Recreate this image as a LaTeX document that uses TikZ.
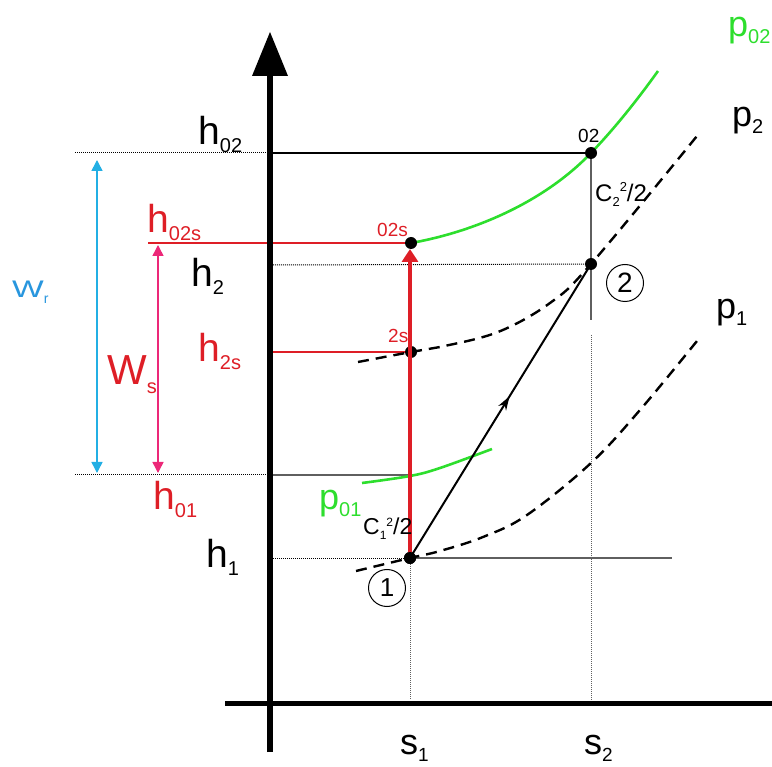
\documentclass[tikz,border=0pt]{standalone}
\usepackage{fontspec}
\setmainfont{Liberation Sans}
\usetikzlibrary{arrows.meta,decorations.markings}
\definecolor{myred}{RGB}{222,30,38}
\definecolor{mymag}{RGB}{236,40,120}
\definecolor{mycyan}{RGB}{35,175,228}
\definecolor{myblue}{RGB}{40,150,222}
\definecolor{mygreen}{RGB}{45,222,45}
\definecolor{mygray}{RGB}{95,95,95}
\newcommand{\fs}[1]{\fontsize{#1}{#1}\selectfont}
\newcommand{\hsub}[2]{\fs{39}#1\raisebox{-8pt}{\fs{20}#2}}
\begin{document}
\begin{tikzpicture}[x=1pt,y=-1pt,
  lbl/.style={inner sep=0pt,anchor=base west},
  dotline/.style={densely dotted,line width=1pt},
  thinline/.style={line width=1.2pt},
  pdash/.style={line width=2.4pt,dash pattern=on 11pt off 7pt},
  gcurve/.style={line width=2.6pt,mygreen},
  pt/.style={circle,fill=black,inner sep=0pt,minimum size=12pt},
  circ/.style={circle,draw,line width=1pt,inner sep=0pt,minimum size=37pt}]
\useasboundingbox (0,0) rectangle (772,767);
% point positions
\coordinate (q1) at (410,558);
\coordinate (q2) at (591,264);
\coordinate (q02) at (591,153);
\coordinate (q02s) at (411,243);
\coordinate (q2s) at (411,352);
% helper coordinates
\coordinate (y02L) at (75,153);
\coordinate (axA) at (270,153);
\coordinate (y02sL) at (148,243);
\coordinate (y2L) at (273,265);
\coordinate (y2sL) at (273,352);
\coordinate (y01L) at (75,475);
\coordinate (y01A) at (270,475);
\coordinate (y01R) at (410,475);
\coordinate (y1L) at (273,558);
\coordinate (y1R) at (672,558);
\coordinate (v2a) at (591,320);
\coordinate (v2b) at (591,335);
\coordinate (s1b) at (410,700);
\coordinate (s2b) at (591,700);
\coordinate (yAxB) at (270,752);
\coordinate (yAxT) at (270,70);
\coordinate (xAxL) at (225,703);
\coordinate (xAxR) at (772,703);
\coordinate (wrT) at (97,160);
\coordinate (wrB) at (97,473);
\coordinate (wsT) at (158,245);
\coordinate (wsB) at (158,473);
\coordinate (g02end) at (658,71);
\coordinate (redtip) at (410,249);
% horizontal level lines
\draw[dotline] (y02L) -- (axA);
\draw[thinline] (axA) -- (q02);
\draw[myred,thinline] (y02sL) -- (q02s);
\draw[dotline] (y2L) -- (q2);
\draw[myred,thinline] (y2sL) -- (q2s);
\draw[dotline] (y01L) -- (y01A);
\draw[mygray,thinline] (y01A) -- (y01R);
\draw[dotline] (y1L) -- (q1);
\draw[mygray,thinline] (q1) -- (y1R);
% vertical lines
\draw[mygray,thinline] (q02) -- (v2a);
\draw[dotline,mygray] (v2b) -- (s2b);
\draw[dotline,mygray] (q1) -- (s1b);
% axes
\draw[line width=6pt] (yAxB) -- (yAxT);
\fill (270,32) -- (252,76) -- (288,76) -- cycle;
\draw[line width=5pt] (xAxL) -- (xAxR);
% dashed isobars
\draw[pdash] plot[smooth,tension=0.6] coordinates {(358,362) (411,352) (440,347) (498,332) (550,303) (591,264) (697,136)};
\draw[pdash] plot[smooth,tension=0.6] coordinates {(356,571) (410,558) (440,551) (483,537) (527,515) (591,463) (640,410) (697,341)};
% green isobars
\draw[gcurve] (q02s) .. controls (473,232) and (543,203) .. (q02) .. controls (615,128) and (638,99) .. (g02end);
\draw[gcurve] plot[smooth,tension=0.6] coordinates {(362,483) (410,476) (440,468) (492,449)};
% points
\node[pt] (p1) at (q1) {};
\node[pt] (p2) at (q2) {};
\node[pt] (p02) at (q02) {};
\node[pt] (p02s) at (q02s) {};
\node[pt] (p2s) at (q2s) {};
% process arrows
\draw[myred,line width=3.8pt,-{Triangle[length=13pt,width=16pt]}] (p1.center) -- (redtip);
\draw[line width=2pt,decoration={markings,mark=at position 0.55 with {\arrow{Stealth[length=14pt,width=9pt]}}},postaction={decorate}] (p1.center) -- (p2.center);
\node[pt] at (q1) {};
% work arrows
\draw[mycyan,line width=1.5pt,{Triangle[length=11pt,width=11pt]}-{Triangle[length=11pt,width=11pt]}] (wrT) -- (wrB);
\draw[mymag,line width=1.5pt,{Triangle[length=11pt,width=11pt]}-{Triangle[length=11pt,width=11pt]}] (wsT) -- (wsB);
% labels
\node[lbl] (lh02) at (198,145) {\hsub{h}{02}};
\node[lbl,text=myred] (lh02s) at (147,233) {\hsub{h}{02s}};
\node[lbl] (lh2) at (191,287) {\hsub{h}{2}};
\node[lbl,text=myred] (lh2s) at (198,362) {\hsub{h}{2s}};
\node[lbl,text=myred] (lh01) at (153,510) {\hsub{h}{01}};
\node[lbl] (lh1) at (206,568) {\hsub{h}{1}};
\node[lbl,text=myred] (lws) at (107,385) {\fs{42}W\raisebox{-9pt}{\fs{20}s}};
\node[lbl,text=myblue] (lwr) at (12,298) {\fs{24}\scalebox{1.4}[1]{W}\raisebox{-6pt}{\fs{14}r}};
\node[lbl] (ls1) at (400,754) {\fs{36}s\raisebox{-7pt}{\fs{19}1}};
\node[lbl] (ls2) at (584,754) {\fs{36}s\raisebox{-7pt}{\fs{19}2}};
\node[lbl,text=mygreen] (lp02) at (728,37) {\fs{36}p\raisebox{-7pt}{\fs{20}02}};
\node[lbl] (lp2) at (732,127) {\fs{36}p\raisebox{-7pt}{\fs{20}2}};
\node[lbl] (lp1) at (716,319) {\fs{36}p\raisebox{-7pt}{\fs{20}1}};
\node[lbl,text=mygreen] (lp01) at (319,510) {\fs{36}p\raisebox{-7pt}{\fs{20}01}};
\node[lbl] (lc1) at (363,535) {\fs{23}C\raisebox{-5pt}{\fs{12}1}\raisebox{9pt}{\fs{12}2}/2};
\node[lbl] (lc2) at (595,202) {\fs{24}C\raisebox{-5pt}{\fs{13}2}\raisebox{10pt}{\fs{13}2}/2};
\node[lbl] (l02) at (578,143) {\fs{19}02};
\node[lbl,text=myred] (l02s) at (377,237) {\fs{19}02s};
\node[lbl,text=myred] (l2s) at (388,343) {\fs{19}2s};
\node[circ] (c2) at (625,283) {\fs{28}2};
\node[circ] (c1) at (387,588) {\fs{26}1};
\end{tikzpicture}
\end{document}
